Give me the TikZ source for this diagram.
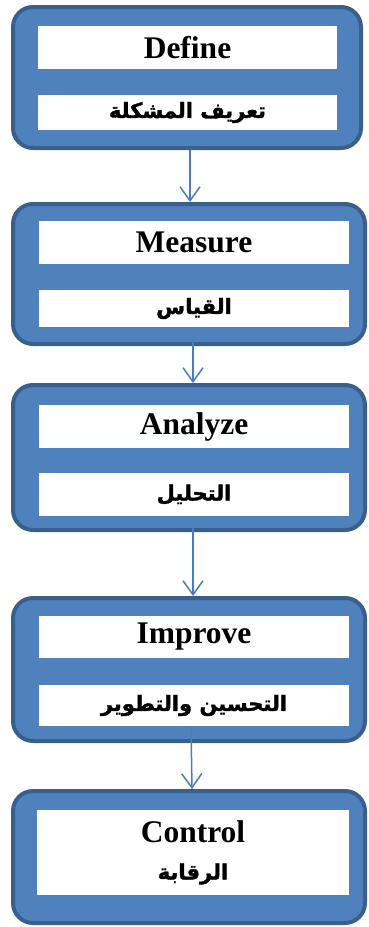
\documentclass[tikz,border=0pt]{standalone}
\usepackage{fontspec}
\setmainfont{Liberation Serif}
\newfontfamily\arabicfont[Script=Arabic,FakeBold=1.6]{DejaVu Sans}
\TeXXeTstate=1
\usetikzlibrary{arrows.meta,calc}
\definecolor{stagefill}{HTML}{4F81BD}
\definecolor{stageline}{HTML}{3A5F8C}
\definecolor{flowline}{HTML}{4A7EBB}
\newcommand{\entitle}[1]{{\bfseries\fontsize{31.5}{33}\selectfont #1}}
\newcommand{\artitle}[1]{{\arabicfont\bfseries\fontsize{21}{26}\selectfont\beginR #1\endR}}
\tikzset{
  stage/.style={draw=stageline, fill=stagefill, line width=4pt, rounded corners=20pt,
    minimum width=352pt, inner sep=0pt},
  label box/.style={fill=white, inner sep=0pt, minimum width=310pt, align=center},
  flow/.style={draw=flowline, line width=1.5pt, -{Straight Barb[length=14pt,width=20pt,line width=1.5pt]}}
}
\begin{document}
\begin{tikzpicture}[x=1pt,y=1pt]
\useasboundingbox (0,0) rectangle (368,-927);
% stage frames
\node[stage, minimum width=348pt, minimum height=141pt] (s1) at (187,-77.5) {};
\node[stage, minimum height=140pt] (s2) at (189,-274) {};
\node[stage, minimum height=145pt] (s3) at (189,-457.5) {};
\node[stage, minimum height=143pt] (s4) at (189,-669.5) {};
\node[stage, minimum height=132pt] (s5) at (189,-857) {};
% label strips
\node[label box, minimum width=299pt, minimum height=43pt] (d1) at (187.5,-47.5) {\entitle{Define}};
\node[label box, minimum width=299pt, minimum height=35pt] (d2) at (187.5,-112.5) {\artitle{تعريف المشكلة}};
\node[label box, minimum height=43pt] (m1) at (194,-242.5) {\entitle{Measure}};
\node[label box, minimum height=37pt] (m2) at (194,-308.5) {\artitle{القياس}};
\node[label box, minimum height=43pt] (a1) at (194,-426.5) {\entitle{Analyze}};
\node[label box, minimum height=43pt] (a2) at (194,-494.5) {\artitle{التحليل}};
\node[label box, minimum height=42pt] (i1) at (194,-637) {\entitle{Improve}};
\node[label box, minimum height=41pt] (i2) at (194,-705.5) {\artitle{التحسين والتطوير}};
\node[label box, minimum width=312pt, minimum height=85pt, font=\fontsize{30}{37}\selectfont]
  (c1) at (193,-852.5) {\entitle{Control}\\\artitle{الرقابة}};
% connectors
\draw[flow] ($(s1.south)+(3,0)$) -- ($(s2.north)+(1,0)$);
\draw[flow] ($(s2.south)+(4,8)$) -- ($(s3.north)+(4,0)$);
\draw[flow] ($(s3.south)+(4,4)$) -- ($(s4.north)+(4,0)$);
\draw[flow] (i2.south -| 191,0) -- ($(s5.north)+(3,0)$);
\end{tikzpicture}
\end{document}
